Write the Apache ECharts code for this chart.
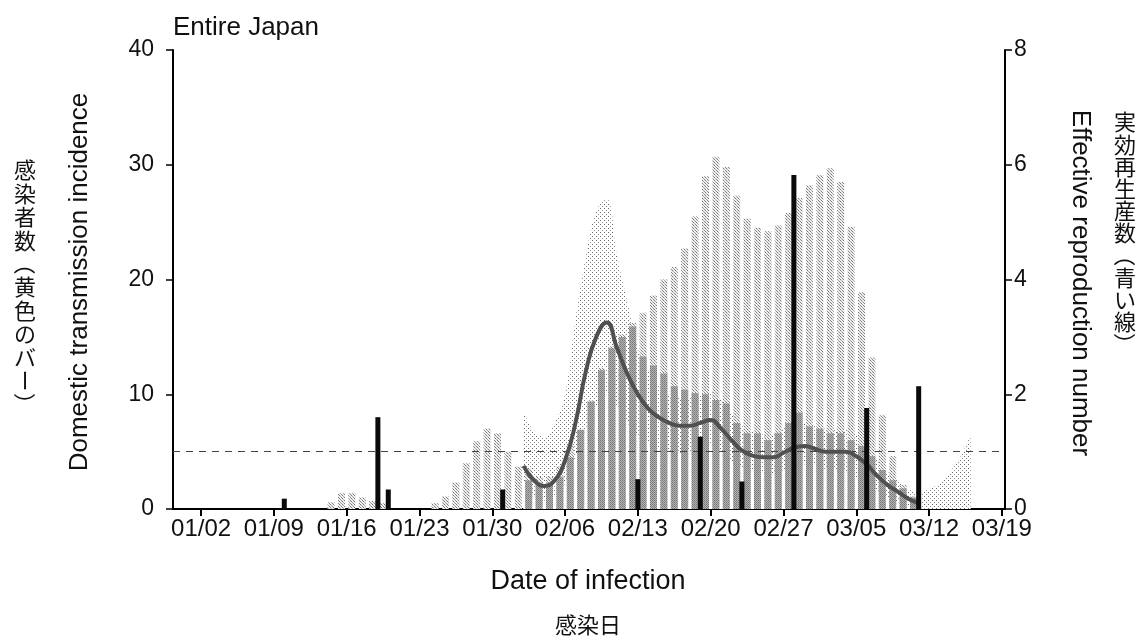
<!DOCTYPE html>
<html>
<head>
<meta charset="utf-8">
<script src="https://cdn.jsdelivr.net/npm/echarts@6/dist/echarts.min.js"></script>
<style>
  html, body { margin: 0; padding: 0; background: #fff; }
  #main { width: 1145px; height: 638px; }
</style>
</head>
<body>
<div id="main"></div>
<script>
// day index 0 = 01/02 (2020)
const tickDays = [0, 7, 14, 21, 28, 35, 42, 49, 56, 63, 70, 77];
const tickLabels = ['01/02', '01/09', '01/16', '01/23', '01/30', '02/06', '02/13', '02/20', '02/27', '03/05', '03/12', '03/19'];

// incidence bars (light, tall) from day 12 to day 68
const upperStartDay = 12;
const incidenceUpper = [0.6, 1.4, 1.4, 1.0, 0.7, 0.5, 0, 0, 0, 0, 0.5, 1.1, 2.3, 4.0, 5.9, 7.0, 6.6, 5.0, 3.7,
  3.5, 2.8, 2.8, 3.7, 5.7, 6.9, 9.5, 12.3, 14.2, 15.2, 16.2, 17.1, 18.6, 20.0, 21.1, 22.7, 25.5, 29.0, 30.7,
  29.8, 27.3, 25.3, 24.5, 24.2, 24.7, 25.8, 27.1, 28.2, 29.1, 29.7, 28.5, 24.6, 18.9, 13.2, 8.2, 4.6, 2.1, 1.1];

// incidence bars (darker) from day 31 to day 68
const darkStartDay = 31;
const incidenceDark = [2.5, 2.3, 2.3, 2.8, 4.5, 6.9, 9.35, 12.1, 14.0, 15.0, 15.9, 13.3, 12.5, 11.8, 10.7, 10.4,
  10.1, 10.0, 9.5, 9.2, 7.5, 6.6, 6.6, 6.0, 6.6, 7.5, 8.4, 7.2, 7.0, 6.6, 6.6, 6.0, 5.5, 4.6, 3.4, 2.5, 1.8, 1.0];

// black bars
const blackDays = [8, 17, 18, 29, 42, 48, 52, 57, 64, 69];
const blackValues = [0.9, 8.0, 1.7, 1.7, 2.6, 6.3, 2.4, 29.1, 8.8, 10.7];

// effective reproduction number, day 31 to 69
const rStartDay = 31;
const rValues = [0.75, 0.5, 0.4, 0.5, 0.85, 1.5, 2.4, 3.0, 3.25, 2.8, 2.35, 2.0, 1.75, 1.6, 1.5, 1.45, 1.45, 1.5,
  1.55, 1.4, 1.2, 1.02, 0.93, 0.9, 0.9, 0.98, 1.07, 1.1, 1.05, 1.0, 1.0, 1.0, 0.92, 0.78, 0.58, 0.42, 0.3, 0.18, 0.1];

// 95% interval of R, day 31 to 74
const ciStartDay = 31;
const rUpper = [1.7, 1.35, 1.25, 1.5, 2.0, 3.3, 4.4, 5.2, 5.4, 4.4, 3.6, 2.8, 2.4, 2.15, 2.0, 1.95, 1.95, 2.0,
  2.05, 1.9, 1.65, 1.45, 1.35, 1.3, 1.32, 1.4, 1.5, 1.5, 1.45, 1.4, 1.4, 1.4, 1.3, 1.1, 0.85, 0.65, 0.5, 0.35,
  0.3, 0.35, 0.45, 0.65, 0.9, 1.3];
const rLower = [0.5, 0.2, 0.15, 0.2, 0.45, 0.9, 1.4, 1.8, 2.0, 1.8, 1.5, 1.3, 1.15, 1.05, 1.0, 0.98, 1.0, 1.05,
  1.1, 1.0, 0.85, 0.7, 0.65, 0.62, 0.62, 0.68, 0.75, 0.78, 0.75, 0.7, 0.7, 0.65, 0.55, 0.45, 0.3, 0.2, 0.12, 0.05,
  0.02, 0, 0, 0, 0, 0];

const LATIN = '"Liberation Sans", Arial, sans-serif';
const CJK = '"Noto Sans CJK JP", sans-serif';

function dotPattern(size, dots, bg) {
  const c = document.createElement('canvas');
  c.width = size; c.height = size;
  const ctx = c.getContext('2d');
  ctx.fillStyle = bg; ctx.fillRect(0, 0, size, size);
  dots.forEach(d => { ctx.fillStyle = d[2]; ctx.fillRect(d[0], d[1], 1, 1); });
  return { image: c, repeat: 'repeat' };
}

const bandFill = dotPattern(4, [[0, 0, '#666'], [2, 2, '#888']], '#ffffff');
const lightBarFill = dotPattern(3, [[0, 0, '#777'], [1, 1, '#aaa'], [2, 2, '#888']], '#f0f0f0');
const darkBarFill = dotPattern(2, [[0, 0, '#777'], [1, 1, '#888']], '#b2b2b2');

const upperData = incidenceUpper.map((v, i) => [upperStartDay + i + 0.5, v]);
const darkData = incidenceDark.map((v, i) => [darkStartDay + i + 0.5, v]);
const blackData = blackDays.map((d, i) => [d, blackValues[i]]);
const rData = rValues.map((v, i) => [rStartDay + i, v]);
const ciUpperData = rUpper.map((v, i) => [ciStartDay + i, v]);
const ciLowerData = rLower.map((v, i) => [ciStartDay + i, v]);

function verticalText(chars, x, y0, step) {
  return chars.split('').map((ch, i) => ({
    type: 'text',
    x: x,
    y: y0 + i * step,
    rotation: '（）ー'.includes(ch) ? -Math.PI / 2 : 0,
    style: {
      text: ch, font: '22px ' + CJK, fill: '#111',
      align: 'center', verticalAlign: 'middle'
    }
  }));
}

const chart = echarts.init(document.getElementById('main'), null, { renderer: 'canvas' });

const xAxisBase = {
  type: 'value',
  min: -2.7,
  max: 77.3,
  splitLine: { show: false }
};

const option = {
  animation: false,
  backgroundColor: '#fff',
  grid: { left: 173, right: 140, top: 50, bottom: 129 },
  xAxis: [
    Object.assign({}, xAxisBase, {
      axisLine: { show: true, lineStyle: { color: '#000', width: 2 } },
      axisTick: { show: true, inside: false, length: 7, customValues: tickDays, lineStyle: { color: '#000', width: 2 } },
      axisLabel: {
        customValues: tickDays,
        formatter: v => tickLabels[tickDays.indexOf(v)] || '',
        color: '#111', fontSize: 24, fontFamily: LATIN, margin: 8
      }
    }),
    Object.assign({}, xAxisBase, { show: false })
  ],
  yAxis: [
    {
      type: 'value', min: 0, max: 40, interval: 10,
      axisLine: { show: true, onZero: false, lineStyle: { color: '#000', width: 2 } },
      axisTick: { show: true, length: 7, lineStyle: { color: '#000', width: 1.5 } },
      axisLabel: { color: '#111', fontSize: 23, fontFamily: LATIN, margin: 19 },
      splitLine: { show: false }
    },
    {
      type: 'value', min: 0, max: 8, interval: 2, position: 'right',
      axisLine: { show: true, onZero: false, lineStyle: { color: '#000', width: 2 } },
      axisTick: { show: true, length: 7, lineStyle: { color: '#000', width: 1.5 } },
      axisLabel: { color: '#111', fontSize: 23, fontFamily: LATIN, margin: 9 },
      splitLine: { show: false }
    }
  ],
  series: [
    {
      name: 'ciUpper', type: 'line', xAxisIndex: 0, yAxisIndex: 1,
      data: ciUpperData, smooth: 0.4, symbol: 'none', z: 1,
      lineStyle: { width: 0 }, areaStyle: { color: bandFill, opacity: 1 }
    },
    {
      name: 'ciLower', type: 'line', xAxisIndex: 0, yAxisIndex: 1,
      data: ciLowerData, smooth: 0.4, symbol: 'none', z: 1.5,
      lineStyle: { width: 0 }, areaStyle: { color: '#ffffff', opacity: 1 }
    },
    {
      name: 'upper', type: 'bar', xAxisIndex: 0, yAxisIndex: 0,
      data: upperData, barWidth: 7, barGap: '-100%', z: 2,
      itemStyle: { color: lightBarFill }
    },
    {
      name: 'incidence', type: 'bar', xAxisIndex: 0, yAxisIndex: 0,
      data: darkData, barWidth: 7, barGap: '-100%', z: 3,
      itemStyle: { color: darkBarFill }
    },
    {
      name: 'R', type: 'line', xAxisIndex: 0, yAxisIndex: 1,
      data: rData, smooth: 0.5, symbol: 'none', z: 5,
      lineStyle: { color: '#505050', width: 4 },
      markLine: {
        silent: true, symbol: 'none', label: { show: false },
        lineStyle: { color: '#444', type: [7, 6], width: 1.2 },
        data: [{ yAxis: 1 }]
      }
    },
    {
      name: 'black', type: 'bar', xAxisIndex: 1, yAxisIndex: 0,
      data: blackData, barWidth: 5, z: 6,
      itemStyle: { color: '#0a0a0a' }
    }
  ],
  graphic: [
    {
      type: 'text', left: 173, top: 15,
      style: { text: 'Entire Japan', font: '26px ' + LATIN, fill: '#111' }
    },
    {
      type: 'text', x: 588, y: 582,
      style: { text: 'Date of infection', font: '27px ' + LATIN, fill: '#111', align: 'center', verticalAlign: 'middle' }
    },
    {
      type: 'text', x: 588, y: 625,
      style: { text: '感染日', font: '22px ' + CJK, fill: '#111', align: 'center', verticalAlign: 'middle' }
    },
    {
      type: 'text', x: 80, y: 282, rotation: Math.PI / 2,
      style: { text: 'Domestic transmission incidence', font: '26px ' + LATIN, fill: '#111', align: 'center', verticalAlign: 'middle' }
    },
    {
      type: 'text', x: 1080, y: 283, rotation: -Math.PI / 2,
      style: { text: 'Effective reproduction number', font: '26px ' + LATIN, fill: '#111', align: 'center', verticalAlign: 'middle' }
    }
  ].concat(verticalText('感染者数（黄色のバー）', 25, 170, 23.4))
   .concat(verticalText('実効再生産数（青い線）', 1125, 122, 22.2))
};

chart.setOption(option);
</script>
</body>
</html>
